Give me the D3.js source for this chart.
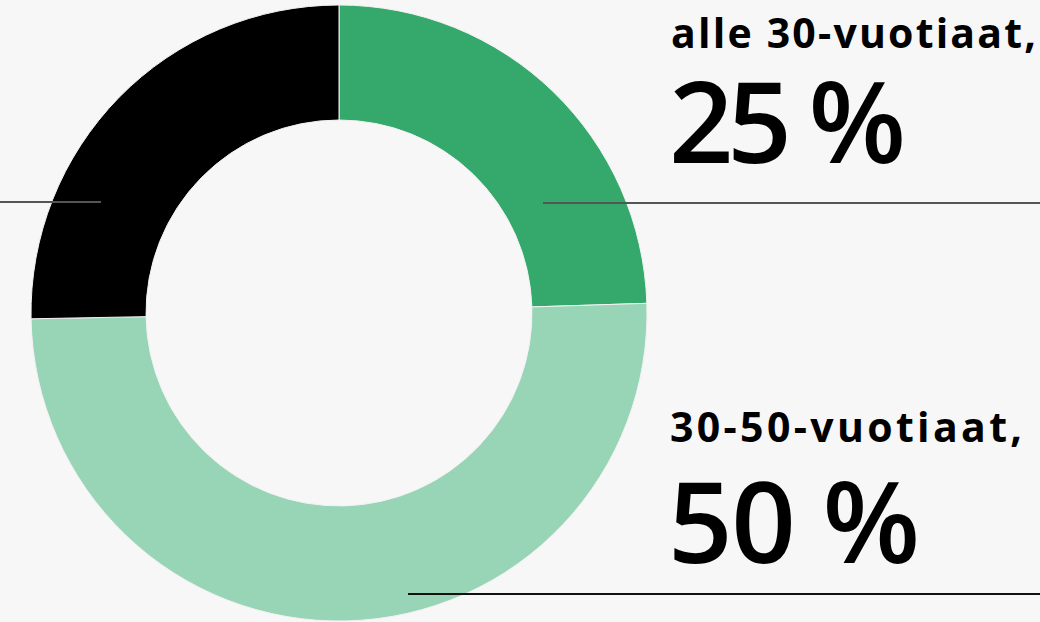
<!DOCTYPE html>
<html><head><meta charset="utf-8">
<script src="https://cdn.jsdelivr.net/npm/d3@7"></script>
<style>
html,body{margin:0;padding:0;background:#f7f7f7;}
svg{display:block;}
text{font-family:"Open Sans","Noto Sans",sans-serif;fill:#000;}
</style></head>
<body>
<svg id="chart" width="1040" height="622"></svg>
<script>
const categories = ["alle 30-vuotiaat,", "30-50-vuotiaat,", "yli 50-vuotiaat,"];
const values = [24.5, 50.2, 25.3];
const valueLabels = ["25 %", "50 %", "25 %"];
const colors = ["#35a86b", "#98d4b6", "#000000"];

const svg = d3.select("#chart");
const cx = 339, cy = 313, rOuter = 308, rInner = 193;

const pie = d3.pie().sort(null).value(d => d)(values);
const arc = d3.arc().innerRadius(rInner).outerRadius(rOuter);

const g = svg.append("g").attr("transform", `translate(${cx},${cy})`);
g.selectAll("path").data(pie).join("path")
  .attr("d", arc)
  .attr("fill", (d,i) => colors[i])
  .attr("stroke", "#f2f2f2")
  .attr("stroke-width", 1);

// leader lines (third slice's label lies outside the visible area)
const leaders = [
  {x1: 543, x2: 1040, y: 203, color: "#555"},
  {x1: 408, x2: 1040, y: 594, color: "#111"},
  {x1: 0, x2: 101, y: 202, color: "#555"}
];
svg.selectAll("line.leader").data(leaders).join("line")
  .attr("class","leader")
  .attr("x1", d => d.x1).attr("x2", d => d.x2)
  .attr("y1", d => d.y).attr("y2", d => d.y)
  .attr("stroke", d => d.color).attr("stroke-width", 2);

// visible labels
const labelPos = [
  {x: 671, y: 48, vy: 163, w: 365, vw: 237},
  {x: 670, y: 442, vy: 563, w: 352, vw: 252}
];
labelPos.forEach((p, i) => {
  svg.append("text").attr("x", p.x).attr("y", p.y)
    .attr("font-size", 41).attr("font-weight", 700)
    .attr("textLength", p.w).attr("lengthAdjust", "spacing")
    .text(categories[i]);
  svg.append("text").attr("x", p.x - 2).attr("y", p.vy)
    .attr("font-size", 113).attr("font-weight", 600)
    .attr("textLength", p.vw).attr("lengthAdjust", "spacing")
    .text(valueLabels[i]);
});
</script>
</body></html>
